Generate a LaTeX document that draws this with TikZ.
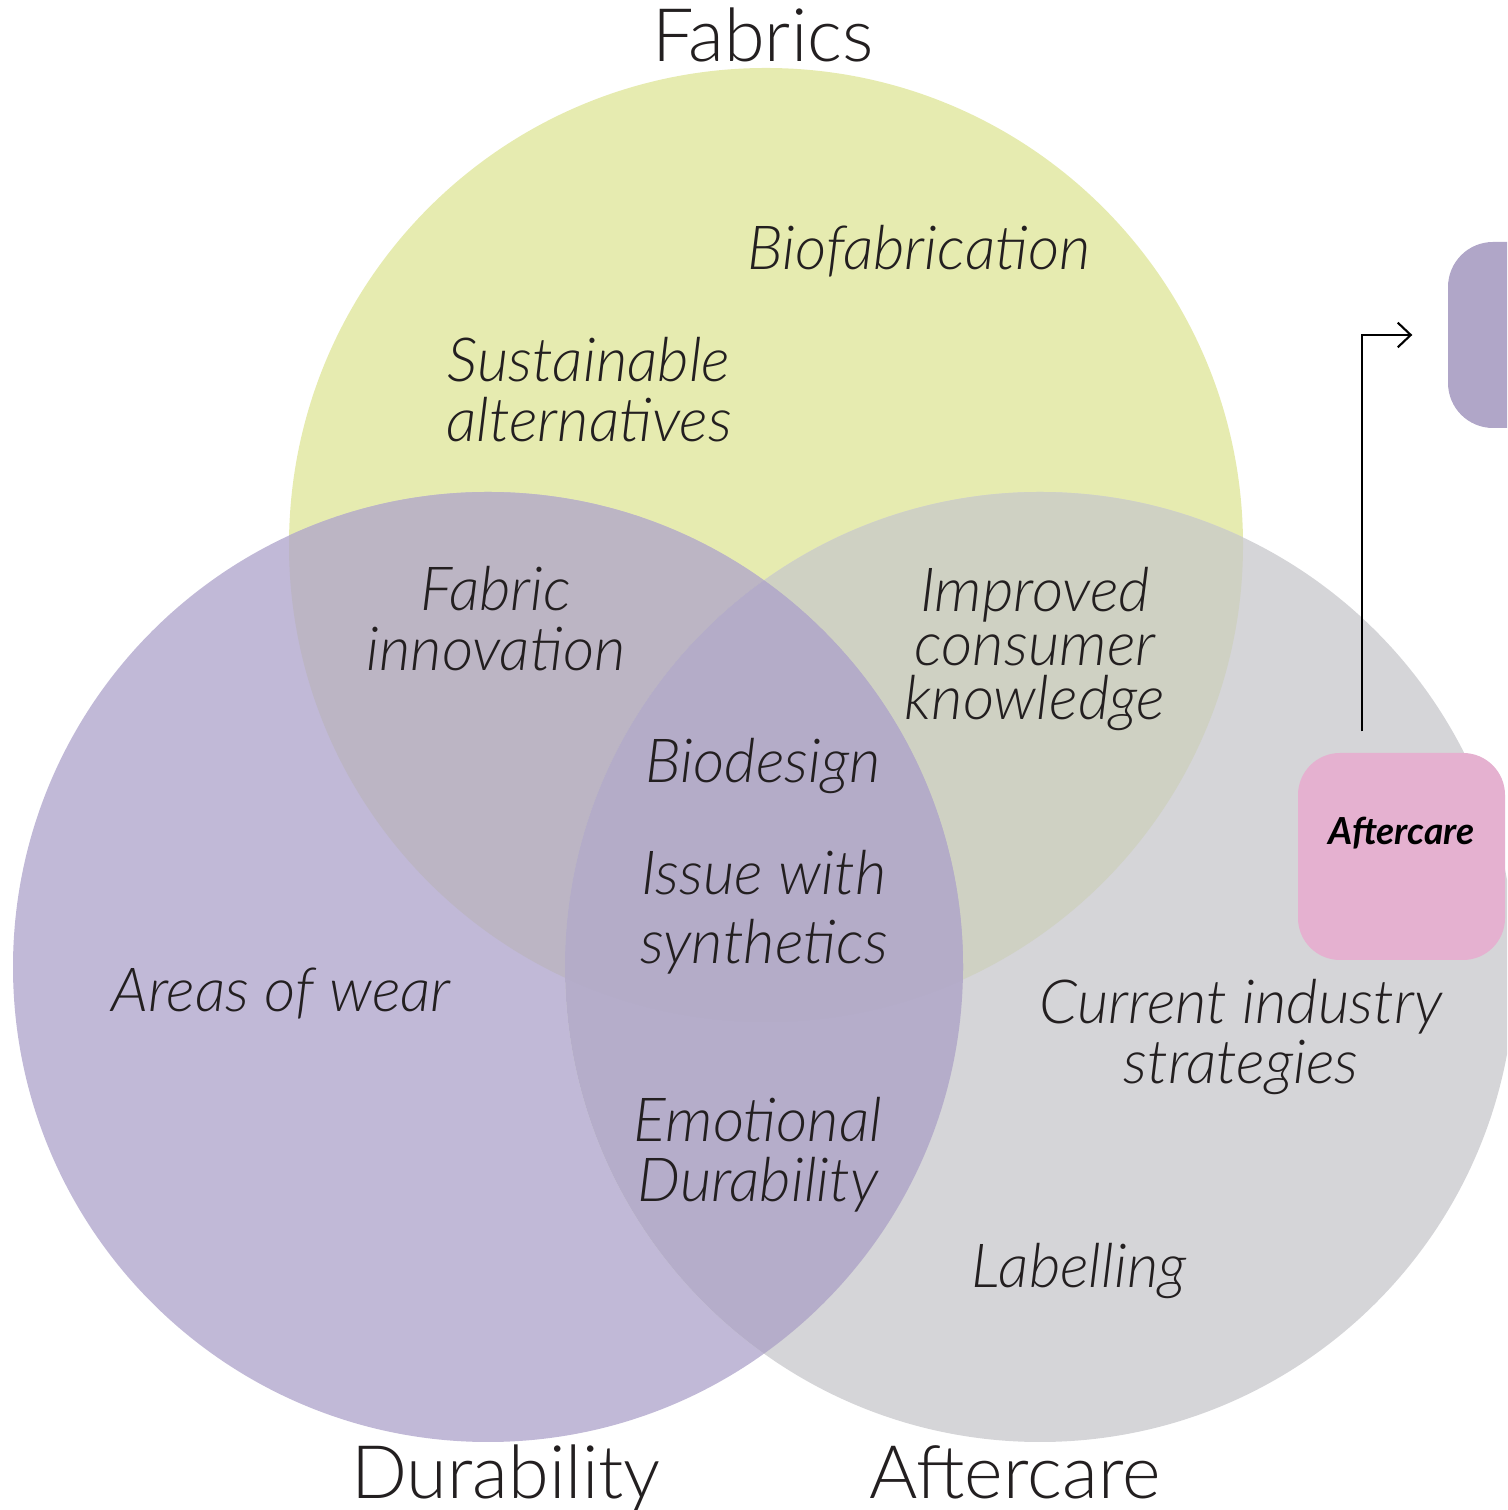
\documentclass[tikz,border=0pt]{standalone}
\usepackage{fontspec}
\setmainfont{Lato}
\newfontfamily\topicfont{Lato Light Italic}
\newfontfamily\titlefont{Lato Light}
\usepackage{tikz}
\usetikzlibrary{positioning, calc, arrows.meta}
\definecolor{fabricyellow}{HTML}{E6EBB0}
\definecolor{durpurple}{HTML}{C1B9D7}
\definecolor{aftgrey}{HTML}{D5D5D8}
\definecolor{fabdur}{HTML}{BCB5C4}
\definecolor{fabaft}{HTML}{CFD1C3}
\definecolor{duraft}{HTML}{B5ADCA}
\definecolor{allthree}{HTML}{B4ACC8}
\definecolor{boxpink}{HTML}{E5B1D0}
\definecolor{boxpurple}{HTML}{B0A6C8}
\definecolor{inkdark}{HTML}{231F20}

\begin{document}
\begin{tikzpicture}[topic/.style={align=center, 
      text=inkdark, 
      inner sep=0pt, 
      font=\fontsize{17.3}{17}\selectfont\topicfont},
    settitle/.style={text=inkdark, 
      inner sep=0pt, 
      anchor=base, 
      font=\fontsize{21}{22}\selectfont\titlefont},
    stepbox/.style={rectangle, 
      rounded corners=0.42cm, 
      minimum width=2.07cm, 
      minimum height=2.07cm, 
      inner sep=0pt}]
  \useasboundingbox (0,0) rectangle (15.07,15.10);
  \clip (0,0) rectangle (15.07,15.10);

  \coordinate (fabcentre) at (7.66,9.65);
  \coordinate (durcentre) at (4.88,5.43);
  \coordinate (aftcentre) at (10.40,5.43);

% CIRCLES

  \fill[fabricyellow] (fabcentre) circle (4.77);
  \fill[durpurple] (durcentre) circle (4.75);
  \fill[aftgrey] (aftcentre) circle (4.75);

  \begin{scope}
    \clip (fabcentre) circle (4.77);
    \fill[fabdur] (durcentre) circle (4.75);
    \fill[fabaft] (aftcentre) circle (4.75);
  \end{scope}

  \begin{scope}
    \clip (durcentre) circle (4.75);
    \fill[duraft] (aftcentre) circle (4.75);
    \clip (aftcentre) circle (4.75);
    \fill[allthree] (fabcentre) circle (4.77);
  \end{scope}

% SET TITLES

  \node [settitle] (fabricstitle) at (7.63,14.48) {Fabrics};
  \node [settitle] (durabilitytitle) at (5.06,0.12) {Durability};
  \node [settitle] (aftercaretitle) at (10.15,0.12) {Aftercare};

% TOPICS

  \node [topic, anchor=base] (biofab) at (9.19,12.40) {Biofabrication};
  \node [topic] (sustalt) at (5.89,11.20) {Sustainable\\alternatives};
  \node [topic] (fabinno) at (4.96,8.91) {Fabric\\innovation};
  \node [topic, font=\fontsize{17.3}{15.4}\selectfont\topicfont] (consknow) 
    at (10.35,8.61) {Improved\\consumer\\knowledge};
  \node [topic, anchor=base] (biodesign) at (7.63,7.27) {Biodesign};
  \node [topic, font=\fontsize{17.3}{19.6}\selectfont\topicfont] (synthetics) 
    at (7.64,5.975) {Issue with\\synthetics};
  \node [topic, anchor=base] (wear) at (2.81,4.98) {Areas of wear};
  \node [topic] (industry) at (12.41,4.73) {Current industry\\strategies};
  \node [topic] (emotional) at (7.58,3.55) {Emotional\\Durability};
  \node [topic, anchor=base] (labelling) at (10.79,2.22) {Labelling};

% SIDE BOXES

  \node [stepbox, fill=boxpink] (aftercarebox) at (14.015,6.535) {};
  \node [inner sep=0pt, 
    font=\fontsize{10.6}{12}\selectfont\bfseries\itshape] (aftercarelabel) 
    at ([yshift=0.23cm]aftercarebox.center) {Aftercare};

  \node [stepbox, fill=boxpurple, minimum height=1.86cm, 
    rounded corners=0.45cm] (nextbox) at (15.515,11.75) {};

  \draw[line width=0.6pt, -{Straight Barb[length=3.7pt, width=7pt]}] 
    ([xshift=-0.395cm, yshift=0.21cm]aftercarebox.north) 
    |- ([xshift=-0.35cm]nextbox.west);

\end{tikzpicture}
\end{document}
